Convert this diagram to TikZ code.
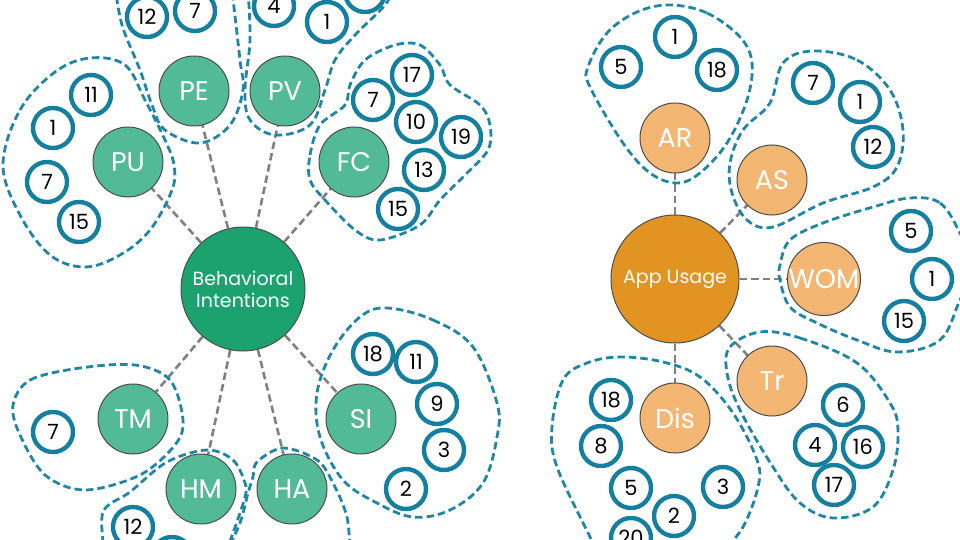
\documentclass[tikz,border=0pt]{standalone}
\usepackage{fontspec}
\usetikzlibrary{backgrounds}
\setmainfont{Poppins}
\definecolor{ringblue}{HTML}{157F9F}
\definecolor{dashblue}{HTML}{1F86A6}
\definecolor{maingreen}{HTML}{1BA26F}
\definecolor{subgreen}{HTML}{52BA96}
\definecolor{mainorange}{HTML}{E29423}
\definecolor{suborange}{HTML}{F3B673}
\tikzset{
  x=1pt,y=-1pt,
  hub/.style={circle,draw=black!70,line width=1pt,text=white,align=center,inner sep=0pt,font=\fontsize{19}{22}\selectfont},
  sat/.style={circle,draw=black!70,line width=1pt,minimum size=70pt,inner sep=0pt,text=white,font=\fontsize{27}{30}\selectfont},
  num/.style={circle,draw=ringblue,line width=4.4pt,fill=white,minimum size=40pt,inner sep=0pt,text=black,font=\fontsize{21}{24}\selectfont},
  blob/.style={draw=dashblue,line width=2.8pt,dash pattern=on 7.5pt off 4pt},
  link/.style={draw=black!50,line width=2.6pt,dash pattern=on 7.5pt off 4pt},
}
\begin{document}
\begin{tikzpicture}
\useasboundingbox (0,0) rectangle (960,540);
\clip (0,0) rectangle (960,540);
% hubs and satellites
\node[hub,fill=maingreen,minimum size=124pt] (bi) at (243,289) {Behavioral\\Intentions};
\node[hub,fill=mainorange,minimum size=128pt] (au) at (675,279) {App Usage};
\foreach \n/\t/\p in {pu/PU/{128,162},pe/PE/{194,91},pv/PV/{285,91},fc/FC/{354,162},tm/TM/{133,419},hm/HM/{201,489},ha/HA/{292,489},si/SI/{361,419}}
  \node[sat,fill=subgreen] (\n) at (\p) {\t};
\foreach \n/\t/\p in {ar/AR/{675,138},as/AS/{772,180},wom/WOM/{824,279},tr/Tr/{772,381},dis/Dis/{675,418}}
  \node[sat,fill=suborange] (\n) at (\p) {\t};
% numbers
\foreach \i/\t/\p in {a1/11/{91,95},a2/1/{53,128},a3/7/{47,182},a4/15/{79,222},a5/12/{147,17},a6/7/{195,11},a7/4/{274,6},a8/1/{327,22},a9/{}/{365,-8},
 b1/17/{412,75},b2/7/{373,100},b3/10/{416,122},b4/19/{461,137},b5/13/{424,170},b6/15/{398,209},c1/7/{53,432},
 d1/18/{373,354},d2/11/{416,362},d3/9/{437,404},d4/3/{444,450},d5/2/{406,489},e1/12/{133,527},e2/{}/{172,557},
 f1/1/{675,37},f2/5/{621,67},f3/18/{717,70},g1/7/{813,83},g2/1/{860,102},g3/12/{873,147},
 h1/5/{911,231},h2/1/{932,279},h3/15/{904,321},i1/6/{843,405},i2/4/{815,445},i3/16/{863,447},i4/17/{834,485},
 j1/18/{611,400},j2/8/{601,446},j3/5/{631,488},j4/2/{674,516},j5/3/{723,487},j6/20/{631,538}}
  \node[num] (\i) at (\p) {\t};
\begin{scope}[on background layer]
% connectors
\foreach \n in {pu,pe,pv,fc,tm,hm,ha,si} \draw[link] (bi) -- (\n);
\foreach \n in {ar,as,wom,tr,dis} \draw[link] (au) -- (\n);
% outlines
\draw[blob] plot[smooth cycle,tension=0.6] coordinates {(3,165)(20,110)(55,72)(90,58)(125,65)(145,100)(165,140)(174,165)(172,190)(150,230)(120,255)(85,267)(50,255)(20,215)};
\draw[blob] plot[smooth,tension=0.6] coordinates {(115,-15)(122,25)(140,70)(152,105)(165,130)(200,143)(230,125)(243,90)(240,60)(232,-10)};
\draw[blob] plot[smooth,tension=0.6] coordinates {(248,-10)(250,40)(245,90)(250,120)(275,135)(310,125)(325,90)(335,60)(355,35)(385,5)(395,-15)};
\draw[blob] plot[smooth cycle,tension=0.55] coordinates {(310,180)(310,155)(320,125)(345,105)(350,85)(365,60)(395,45)(420,45)(440,65)(450,85)(480,105)(490,125)(488,150)(465,175)(440,200)(420,225)(380,240)(355,230)(325,200)};
\draw[blob] plot[smooth cycle,tension=0.55] coordinates {(13,405)(30,380)(80,368)(135,365)(170,380)(183,420)(175,445)(140,475)(85,490)(45,475)(20,435)};
\draw[blob] plot[smooth,tension=0.55] coordinates {(105,555)(103,512)(130,492)(167,462)(207,450)(233,460)(245,483)(245,497)(233,533)(225,555)};
\draw[blob] plot[smooth,tension=0.55] coordinates {(225,555)(240,523)(248,493)(253,477)(257,462)(283,448)(317,460)(333,483)(347,517)(350,555)};
\draw[blob] plot[smooth cycle,tension=0.6] coordinates {(387,308)(433,320)(473,347)(497,403)(497,437)(483,483)(450,510)(413,517)(377,503)(343,480)(320,437)(317,393)(333,350)(360,317)};
\draw[blob] plot[smooth cycle,tension=0.6] coordinates {(670,5)(707,13)(740,37)(752,63)(747,100)(727,143)(700,173)(677,183)(650,173)(623,143)(590,87)(588,67)(607,33)(637,12)};
\draw[blob] plot[smooth cycle,tension=0.6] coordinates {(813,51)(857,60)(890,90)(903,130)(897,167)(873,187)(823,203)(773,227)(747,220)(732,193)(730,163)(743,130)(770,103)(783,63)};
\draw[blob] plot[smooth cycle,tension=0.6] coordinates {(910,198)(940,203)(960,233)(975,270)(960,300)(940,340)(897,352)(857,340)(817,323)(790,307)(780,280)(780,265)(790,240)(823,223)(873,207)};
\draw[blob] plot[smooth cycle,tension=0.6] coordinates {(760,332)(800,338)(857,363)(890,403)(898,430)(893,470)(873,507)(833,518)(800,503)(773,467)(740,410)(727,373)(730,347)};
\draw[blob] plot[smooth,tension=0.6] coordinates {(600,560)(590,537)(557,467)(552,427)(563,380)(587,363)(620,357)(663,362)(700,377)(733,413)(757,460)(758,487)(743,527)(720,555)};
\end{scope}
\end{tikzpicture}
\end{document}
